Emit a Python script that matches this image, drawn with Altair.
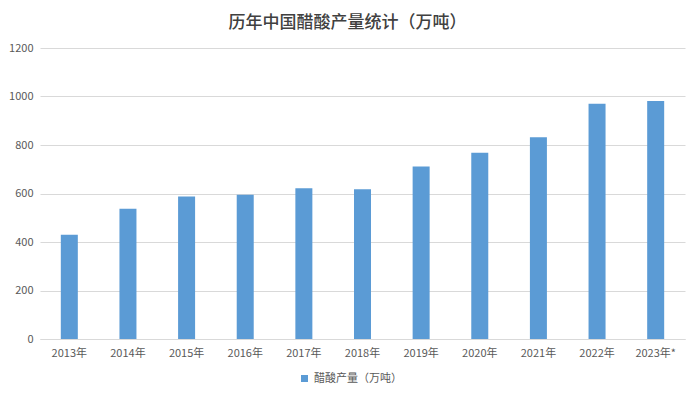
import altair as alt
import pandas as pd

years = ["2013年", "2014年", "2015年", "2016年", "2017年", "2018年",
         "2019年", "2020年", "2021年", "2022年", "2023年*"]
output = [430, 537, 588, 595, 622, 618, 711, 768, 832, 970, 981]
series_name = "醋酸产量（万吨）"
title_text = "历年中国醋酸产量统计（万吨）"
y_ticks = [0, 200, 400, 600, 800, 1000, 1200]

df = pd.DataFrame({"year": years, "value": output, "series": [series_name] * len(years)})

FONT = "Noto Sans CJK SC"

chart = alt.Chart(df).mark_bar(color="#5B9BD5").encode(
    x=alt.X("year:N", sort=years,
            scale=alt.Scale(paddingInner=0.71, paddingOuter=0.355),
            axis=alt.Axis(title=None, labelAngle=0, labelFontSize=11, labelColor="#595959",
                          labelFont=FONT, ticks=False, domainColor="#D9D9D9",
                          labelPadding=8, grid=False)),
    y=alt.Y("value:Q", scale=alt.Scale(domain=[0, 1200], nice=False),
            axis=alt.Axis(title=None, values=y_ticks, format="d", labelFontSize=11,
                          labelColor="#595959", labelFont=FONT, ticks=False, domain=False,
                          gridColor="#D9D9D9", labelPadding=7)),
    color=alt.Color("series:N",
                    scale=alt.Scale(domain=[series_name], range=["#5B9BD5"]),
                    legend=alt.Legend(title=None, orient="none", legendX=259, legendY=325,
                                      symbolType="square", symbolSize=49, labelFontSize=11,
                                      labelColor="#595959", labelFont=FONT,
                                      symbolStrokeWidth=0)),
).properties(
    width=645,
    height=291,
    title=alt.TitleParams(title_text, fontSize=17, font=FONT, color="#404040",
                          fontWeight=500, anchor="middle", dx=-15, offset=10),
    autosize=alt.AutoSizeParams(type="none"),
    padding={"left": 32, "top": 40, "right": 7, "bottom": 50},
).configure_view(stroke=None)

chart.save("out.html", embed_options={"renderer": "svg", "actions": False})
